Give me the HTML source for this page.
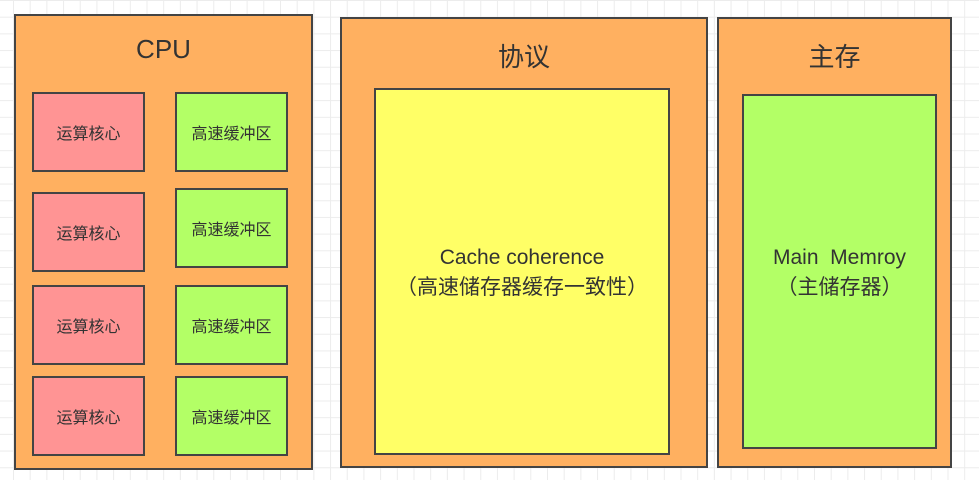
<!DOCTYPE html>
<html><head><meta charset="utf-8"><style>
body{margin:0;width:979px;height:480px;position:relative;overflow:hidden;background:#fff;
background-image:linear-gradient(#ececec 1px,transparent 1px),linear-gradient(90deg,#ececec 1px,transparent 1px);
background-size:16.7px 16.7px;background-position:13px 0;font-family:"Liberation Sans","Noto Sans CJK SC",sans-serif;color:#333}
.b{position:absolute;box-sizing:border-box;border:2px solid #444;display:flex;align-items:center;justify-content:center;text-align:center}
.o{background:#ffb060;align-items:flex-start;font-size:26px;padding-top:18px}
.p{background:#ff9494;font-size:16px}
.g{background:#b3ff66;font-size:16px}
.y{background:#ffff66;font-size:21px;line-height:30px;padding-top:2px}
</style></head><body>
<div class="b o" style="left:14px;top:14px;width:299px;height:456px">CPU</div>
<div class="b o" style="left:340px;top:17px;width:368px;height:451px">协议</div>
<div class="b o" style="left:717px;top:17px;width:235px;height:451px">主存</div>
<div class="b p" style="left:32px;top:92px;width:113px;height:80px">运算核心</div>
<div class="b g" style="left:175px;top:92px;width:113px;height:80px">高速缓冲区</div>
<div class="b p" style="left:32px;top:192px;width:113px;height:80px">运算核心</div>
<div class="b g" style="left:175px;top:188px;width:113px;height:80px">高速缓冲区</div>
<div class="b p" style="left:32px;top:285px;width:113px;height:80px">运算核心</div>
<div class="b g" style="left:175px;top:285px;width:113px;height:80px">高速缓冲区</div>
<div class="b p" style="left:32px;top:376px;width:113px;height:80px">运算核心</div>
<div class="b g" style="left:175px;top:376px;width:113px;height:80px">高速缓冲区</div>
<div class="b y" style="left:374px;top:88px;width:296px;height:367px">Cache coherence<br>（高速储存器缓存一致性）</div>
<div class="b y" style="left:742px;top:94px;width:195px;height:355px;background:#b3ff66">Main&nbsp; Memroy<br>（主储存器）</div>
</body></html>
